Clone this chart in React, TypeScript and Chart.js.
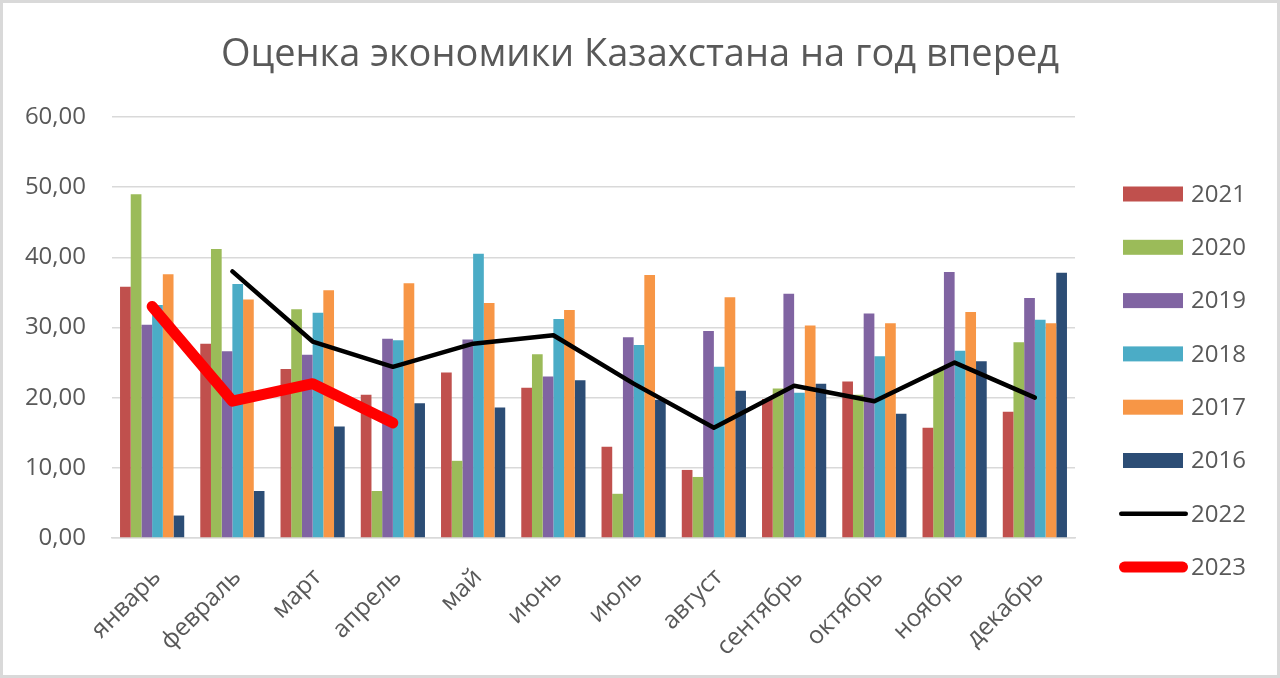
import React, { useEffect, useRef } from "react";
import { Chart, registerables } from "chart.js";

Chart.register(...registerables);

const TITLE = "Оценка экономики Казахстана на год вперед";
const months = ["январь", "февраль", "март", "апрель", "май", "июнь", "июль", "август", "сентябрь", "октябрь", "ноябрь", "декабрь"];
const s2021 = [35.8, 27.7, 24.1, 20.4, 23.6, 21.4, 13.0, 9.7, 19.8, 22.3, 15.7, 18.0];
const s2020 = [49.0, 41.2, 32.6, 6.7, 11.0, 26.2, 6.3, 8.7, 21.3, 20.4, 24.0, 27.9];
const s2019 = [30.4, 26.6, 26.1, 28.4, 28.3, 23.0, 28.6, 29.5, 34.8, 32.0, 37.9, 34.2];
const s2018 = [33.2, 36.2, 32.1, 28.2, 40.5, 31.2, 27.5, 24.4, 20.7, 25.9, 26.7, 31.1];
const s2017 = [37.6, 34.0, 35.3, 36.3, 33.5, 32.5, 37.5, 34.3, 30.3, 30.6, 32.2, 30.6];
const s2016 = [3.2, 6.7, 15.9, 19.2, 18.6, 22.5, 19.7, 21.0, 22.0, 17.7, 25.2, 37.8];
const s2022 = [null, 38.0, 28.0, 24.4, 27.7, 28.9, 22.0, 15.7, 21.7, 19.5, 25.0, 20.0];
const s2023 = [33.0, 19.5, 22.0, 16.4, null, null, null, null, null, null, null, null];
const legendOrder = ["2021", "2020", "2019", "2018", "2017", "2016", "2022", "2023"];

const FONT = "'Open Sans', sans-serif";
const TEXT = "#595959";

export default function App() {
  const ref = useRef<HTMLCanvasElement | null>(null);

  useEffect(() => {
    if (!ref.current) return;

    const framePlugin = {
      id: "frame",
      beforeDraw(chart: any) {
        const { ctx, width, height } = chart;
        ctx.save();
        ctx.fillStyle = "#ffffff";
        ctx.fillRect(0, 0, width, height);
        ctx.strokeStyle = "#d9d9d9";
        ctx.lineWidth = 3;
        ctx.strokeRect(1.5, 1.5, width - 3, height - 3);
        ctx.restore();
      },
      afterDraw(chart: any) {
        const { ctx } = chart;
        ctx.save();
        // title
        ctx.fillStyle = TEXT;
        ctx.font = `38px ${FONT}`;
        ctx.textAlign = "center";
        ctx.textBaseline = "middle";
        ctx.fillText(TITLE, 640, 55);
        // legend
        const ds = chart.data.datasets;
        ctx.font = `24px ${FONT}`;
        ctx.textAlign = "left";
        legendOrder.forEach((lbl, i) => {
          const d = ds.find((x: any) => x.label === lbl);
          if (!d) return;
          const cy = 194 + i * 53.3;
          if (d.type === "line") {
            ctx.strokeStyle = d.borderColor;
            ctx.lineWidth = d.borderWidth;
            ctx.lineCap = "round";
            const pad = d.borderWidth / 2;
            ctx.beginPath();
            ctx.moveTo(1121 + pad - 2, cy);
            ctx.lineTo(1186 - pad + 2, cy);
            ctx.stroke();
          } else {
            ctx.fillStyle = d.backgroundColor;
            ctx.fillRect(1123, cy - 7.5, 60, 15);
          }
          ctx.fillStyle = TEXT;
          ctx.fillText(lbl, 1191, cy + 1);
        });
        ctx.restore();
      },
    };

    const bar = (label: string, data: number[], color: string) => ({
      type: "bar" as const,
      label,
      data,
      backgroundColor: color,
      borderWidth: 0,
      categoryPercentage: 0.8,
      barPercentage: 1.0,
      order: 2,
    });

    const chart = new Chart(ref.current, {
      type: "bar",
      data: {
        labels: months,
        datasets: [
          {
            type: "line",
            label: "2023",
            data: s2023,
            borderColor: "#ff0000",
            backgroundColor: "#ff0000",
            borderWidth: 11,
            borderCapStyle: "round",
            borderJoinStyle: "round",
            pointRadius: 0,
            spanGaps: false,
            tension: 0,
            order: 0,
          },
          {
            type: "line",
            label: "2022",
            data: s2022,
            borderColor: "#000000",
            backgroundColor: "#000000",
            borderWidth: 4.5,
            borderCapStyle: "round",
            borderJoinStyle: "round",
            pointRadius: 0,
            spanGaps: false,
            tension: 0,
            order: 1,
          },
          bar("2021", s2021, "#C0504D"),
          bar("2020", s2020, "#9BBB59"),
          bar("2019", s2019, "#8064A2"),
          bar("2018", s2018, "#4BACC6"),
          bar("2017", s2017, "#F79646"),
          bar("2016", s2016, "#2C4D75"),
        ] as any,
      },
      options: {
        responsive: true,
        maintainAspectRatio: false,
        animation: false,
        devicePixelRatio: 1,
        layout: { padding: { top: 117, right: 205, left: 0, bottom: 0 } },
        plugins: {
          legend: { display: false },
          title: { display: false },
          tooltip: { enabled: false },
        },
        scales: {
          x: {
            offset: true,
            grid: { display: false, drawTicks: false },
            border: { display: true, color: "#d9d9d9", width: 1.5 },
            ticks: {
              color: TEXT,
              font: { family: FONT, size: 24.5 },
              minRotation: 45,
              maxRotation: 45,
              padding: 25,
              labelOffset: 5,
              autoSkip: false,
            },
            afterFit(scale: any) {
              scale.height = 140;
            },
          },
          y: {
            min: 0,
            max: 60,
            grid: { color: "#d9d9d9", lineWidth: 1.5, drawTicks: false },
            border: { display: false },
            ticks: {
              stepSize: 10,
              color: TEXT,
              font: { family: FONT, size: 24 },
              padding: 26,
              callback: (v: any) => Number(v).toFixed(2).replace(".", ","),
            },
            afterFit(scale: any) {
              scale.width = 112;
            },
          },
        },
      },
      plugins: [framePlugin],
    });
    return () => chart.destroy();
  }, []);

  return (
    <div style={{ position: "fixed", left: 0, top: 0, width: 1280, height: 678, background: "#fff" }}>
      <canvas ref={ref} />
    </div>
  );
}
